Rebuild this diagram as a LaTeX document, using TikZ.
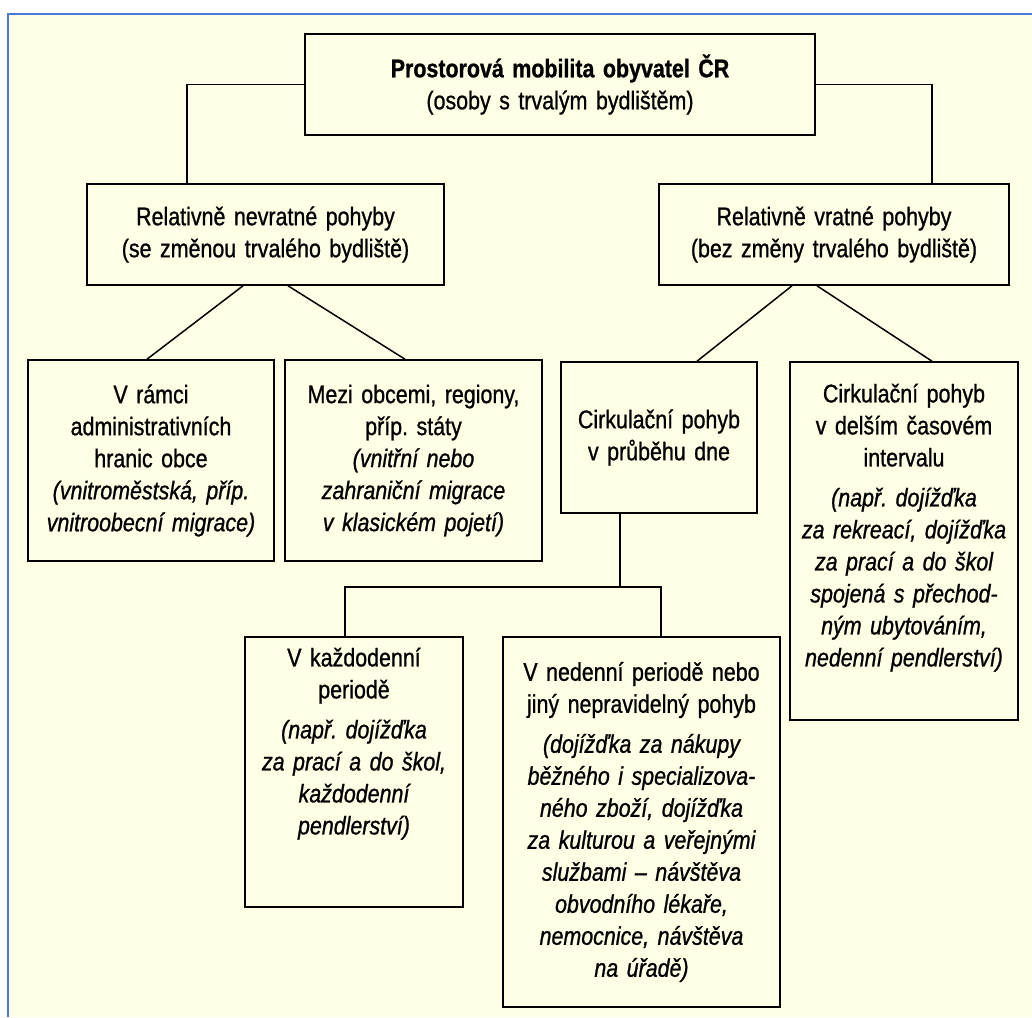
\documentclass[tikz,border=0pt]{standalone}
\usepackage{fontspec}
\setmainfont{Liberation Sans}[FakeStretch=0.84,FakeBold=0.9]
\definecolor{paper}{HTML}{FFFFE6}
\definecolor{framecol}{HTML}{4A78D4}
\frenchspacing
\newcommand{\liftup}[1]{\par\vspace*{#1}\null}

\begin{document}
\begin{tikzpicture}[x=1pt,y=-1pt,
  boxstyle/.style={draw,line width=1.6pt,align=center,inner xsep=0pt,inner ysep=4pt,
    font=\fontsize{25.5}{32}\selectfont}]
  \useasboundingbox (0,0) rectangle (1032,1017);
  \fill[paper] (8,14) rectangle (1032,1017);
  \draw[framecol,line width=2.5pt] (8,1017) -- (8,14) -- (1032,14);
  \node[boxstyle,minimum width=510pt,minimum height=101pt,text width=500pt] (mobilita) at (560,84.5)
    {\textbf{Prostorová mobilita obyvatel ČR}\\(osoby s trvalým bydlištěm)};
  \node[boxstyle,minimum width=357pt,minimum height=101pt,text width=350pt] (nevratne) at (265.5,234.5)
    {Relativně nevratné pohyby\\(se změnou trvalého bydliště)};
  \node[boxstyle,minimum width=350pt,minimum height=101pt,text width=344pt] (vratne)   at (834,234.5)
    {Relativně vratné pohyby\\(bez změny trvalého bydliště)};
  \node[boxstyle,minimum width=246pt,minimum height=201pt,text width=240pt] (obec)     at (151,460.5)
    {V rámci\\administrativních\\hranic obce\\\itshape (vnitroměstská, příp.\\vnitroobecní migrace)};
  \node[boxstyle,minimum width=257pt,minimum height=201pt,text width=251pt] (mezi)     at (413.5,460.5)
    {Mezi obcemi, regiony,\\příp. státy\\\itshape (vnitřní nebo\\zahraniční migrace\\v klasickém pojetí)};
  \node[boxstyle,minimum width=196pt,minimum height=151pt,text width=190pt] (den)      at (659,437.5)
    {Cirkulační pohyb\\v průběhu dne};
  \node[boxstyle,minimum width=228pt,minimum height=358pt,text width=222pt] (delsi)    at (904,541)
    {Cirkulační pohyb\\v delším časovém\\intervalu\\[8pt]\itshape (např. dojížďka\\za rekreací, dojížďka\\za prací a do škol\\spojená s přechod-\\ným ubytováním,\\nedenní pendlerství)\liftup{0pt}};
  \node[boxstyle,minimum width=218pt,minimum height=270pt,text width=212pt] (kazdy)    at (354,772)
    {V každodenní\\periodě\\[8pt]\itshape (např. dojížďka\\za prací a do škol,\\každodenní\\pendlerství)\liftup{30pt}};
  \node[boxstyle,minimum width=277pt,minimum height=370pt,text width=271pt] (nedenni)  at (641.5,822)
    {V nedenní periodě nebo\\jiný nepravidelný pohyb\\[8pt]\itshape (dojížďka za nákupy\\běžného i specializova-\\ného zboží, dojížďka\\za kulturou a veřejnými\\službami -- návštěva\\obvodního lékaře,\\nemocnice, návštěva\\na úřadě)};
  \coordinate (fork) at (620,587);
\tikzset{linkstyle/.style={line width=1.5pt}}
\tikzset{elbow/.style={linkstyle,to path={-| (\tikztotarget)}}}
\path (mobilita.west) edge [elbow] ([xshift=-78.5pt]nevratne.north)
      (mobilita.east) edge [elbow] ([xshift=98pt]vratne.north)
      (fork)          edge [elbow] ([xshift=-9pt]kazdy.north)
      (fork)          edge [elbow] ([xshift=19.5pt]nedenni.north);
\path ([xshift=-22.5pt]nevratne.south) edge [linkstyle] ([xshift=-4pt]obec.north)
      ([xshift=22.5pt]nevratne.south)  edge [linkstyle] ([xshift=-8.5pt]mezi.north)
      ([xshift=-42pt]vratne.south)     edge [linkstyle] ([xshift=38pt]den.north)
      ([xshift=-17pt]vratne.south)     edge [linkstyle] ([xshift=28pt]delsi.north)
      ([xshift=-39pt]den.south)        edge [linkstyle] (fork);
\end{tikzpicture}
\end{document}
